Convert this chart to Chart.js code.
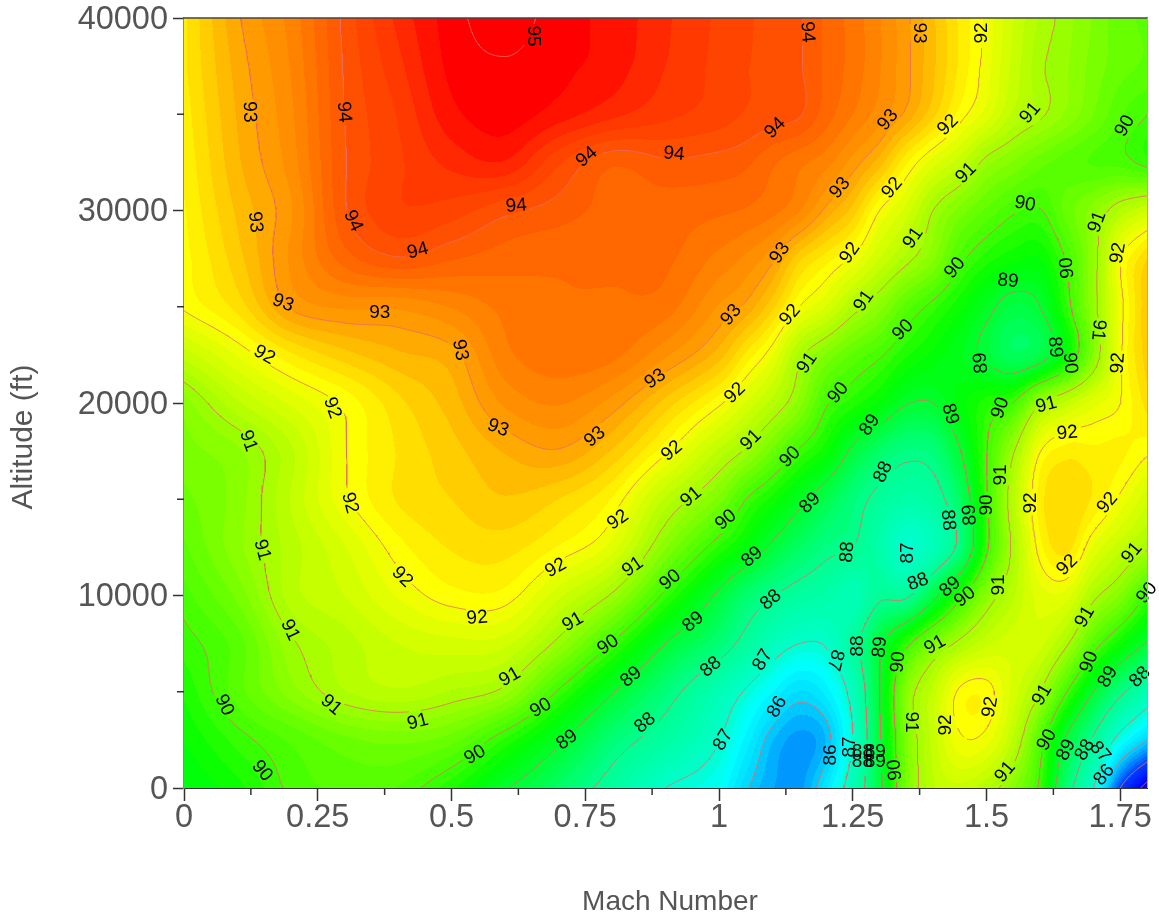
<!DOCTYPE html>
<html><head><meta charset="utf-8"><style>html,body{margin:0;padding:0;background:#fff}canvas{display:block;filter:blur(.4px)}</style>
<script src="https://cdn.jsdelivr.net/npm/chart.js@4"></script></head><body><canvas id="c" width="1159" height="917"></canvas>
<script>
const machs=[0,.1,.2,.3,.4,.5,.6,.7,.8,.9,1,1.05,1.1,1.15,1.2,1.25,1.3,1.35,1.4,1.45,1.5,1.55,1.6,1.65,1.7,1.75,1.8];
const alts=[0,2500,5000,7500,10000,12500,15000,17500,20000,22500,25000,27500,30000,32500,35000,37500,40000];
const atAlt0=[89.3,89.6,90.05,90.2,90.15,89.7,89.05,88.45,87.75,87.0,86.65,86.05,85.68,85.6,86.3,87.4,88.85,90.55,91.3,91.45,91.2,90.7,89.9,88.3,87.0,85.0,83.7];
const atAlt2500=[89.5,89.9,90.2,90.45,90.55,90.4,89.8,89.1,88.3,87.7,87.02,86.45,85.85,85.6,85.85,87.0,88.9,90.6,91.4,91.95,91.9,91.3,90.2,88.9,87.9,86.75,86.0];
const atAlt5000=[89.7,90.25,90.75,91.15,91.3,91.15,90.9,89.95,89.05,88.25,87.4,86.95,86.5,86.15,86.4,87.25,89.0,90.7,91.4,92.05,92.1,91.6,91.0,90.0,89.0,88.15,87.45];
const atAlt7500=[89.9,90.25,90.95,91.25,91.5,91.6,91.55,90.9,89.97,89.0,88.3,87.8,87.3,87.0,87.05,87.75,88.85,89.85,90.6,91.1,91.45,91.6,91.55,91.05,90.2,89.55,88.95];
const atAlt10000=[90.1,90.55,91.25,91.5,91.85,92.1,92.1,91.55,90.95,89.9,88.9,88.4,88.03,87.75,87.6,87.35,87.9,87.9,88.8,89.85,90.75,91.3,91.75,91.75,91.1,90.65,89.95];
const atAlt12500=[90.3,90.78,91.25,91.65,92.1,92.35,92.4,92.15,91.75,90.7,89.8,89.4,88.9,88.5,88.15,88.0,87.6,86.995,87.35,88.2,89.9,91.1,92.1,92.4,91.8,91.4,91.05];
const atAlt15000=[90.45,90.75,91.35,91.95,92.35,92.5,92.65,92.5,92.15,91.3,90.6,90.0,89.6,89.15,88.7,88.25,87.85,87.6,87.75,88.5,89.95,91.25,92.25,92.48,92.3,91.95,91.55];
const atAlt17500=[90.6,90.8,91.3,91.98,92.35,92.6,92.85,92.98,92.65,92.05,91.3,90.95,90.45,89.95,89.55,88.9,88.45,88.15,88.25,88.97,89.98,90.95,91.98,92.25,92.2,92.2,92.05];
const atAlt20000=[90.75,91.3,91.7,92.05,92.45,92.75,93.2,93.35,93.1,92.6,92.05,91.65,91.25,90.75,90.05,89.75,89.45,89.03,89.0,89.4,89.75,90.0,90.95,91.4,91.75,92.0,92.4];
const atAlt22500=[91.4,91.85,92.3,92.6,92.8,92.93,93.45,93.6,93.55,93.2,92.75,92.3,91.85,91.1,90.65,90.3,90.05,89.7,89.45,89.2,88.9,88.55,88.75,89.55,90.7,91.95,92.6];
const atAlt25000=[92.03,92.4,93.03,93.2,93.2,93.35,93.55,93.65,93.64,93.58,93.15,92.95,92.55,92.0,91.65,91.15,90.75,90.25,89.9,89.55,89.15,88.8,89.0,89.85,90.85,91.9,92.65];
const atAlt27500=[92.1,92.6,93.2,93.75,93.98,93.85,93.75,93.7,93.7,93.7,93.45,93.3,93.05,92.55,92.25,91.95,91.5,91.1,90.7,90.1,89.75,89.55,89.5,90.05,90.85,91.95,92.5];
const atAlt30000=[92.15,92.7,93.15,93.97,94.3,94.25,94.05,93.92,93.77,93.75,93.7,93.65,93.55,93.35,92.95,92.6,92.0,91.6,91.0,90.6,90.3,90.05,89.98,90.4,90.75,91.2,91.5];
const atAlt32500=[92.2,92.8,93.25,93.98,94.3,94.55,94.65,94.2,93.87,93.97,93.93,93.87,93.7,93.55,93.4,93.1,92.75,92.2,91.75,91.4,90.9,90.65,90.4,90.25,90.15,90.1,89.9];
const atAlt35000=[92.25,92.85,93.3,94.0,94.35,94.78,94.92,94.75,94.55,94.38,94.25,94.15,94.08,94.02,93.75,93.5,93.25,92.95,92.55,92.1,91.75,91.3,91.05,90.8,90.5,90.2,90.0];
const atAlt37500=[92.3,92.9,93.35,94.02,94.45,94.88,94.98,94.88,94.75,94.5,94.28,94.18,94.1,94.02,93.8,93.6,93.35,93.05,92.7,92.3,91.9,91.45,91.05,90.85,90.6,90.4,90.3];
const atAlt40000=[92.3,92.97,93.4,94.05,94.55,94.92,95.1,94.9,94.78,94.53,94.3,94.2,94.1,94.02,93.8,93.6,93.35,93.05,92.7,92.3,91.95,91.5,91.15,90.9,90.65,90.4,90.3];
const efficiencyRows=[atAlt0,atAlt2500,atAlt5000,atAlt7500,atAlt10000,atAlt12500,atAlt15000,atAlt17500,atAlt20000,atAlt22500,atAlt25000,atAlt27500,atAlt30000,atAlt32500,atAlt35000,atAlt37500,atAlt40000];
const contourLevels=[84,85,86,87,88,89,90,91,92,93,94,95];
const xTicks=[0,.25,.5,.75,1,1.25,1.5,1.75];
const minorMach=[.125,.375,.625,.875,1.125,1.375,1.625];
const minorAlt=[5000,15000,25000,35000];
// contour labels: level, Mach, altitude, angle
const labelLevel=[95,94,93,92,93,94,94,93,92,91,90,94,94,91,93,92,94,90,93,94,91,94,91,92,93,92,90,90,89,93,91,93,93,92,91,90,92,93,89,92,89,90,91,93,90,92,92,91,90,89,93,89,92,93,91,91,92,90,88,91,91,92,92,90,92,89,89,88,90,92,88,87,92,91,89,91,92,91,91,88,92,89,90,90,88,89,91,90,91,92,91,90,91,88,89,90,87,87,90,89,88,91,89,88,90,91,91,90,88,86,92,91,92,91,87,89,90,90,89,88,87,86,87,88,89,88,89,90,91,90,86];
const labelMach=[.652,1.165,1.374,1.492,.122,.299,1.105,1.316,1.428,1.582,1.759,.753,.916,1.462,1.226,1.324,.621,1.572,.133,.316,1.707,.437,1.363,1.746,1.114,1.245,1.441,1.651,1.540,.185,1.271,.366,1.023,1.133,1.709,1.344,.150,.516,1.628,1.746,1.490,1.656,1.165,.881,1.223,1.030,.277,1.612,1.526,1.432,.587,1.282,1.651,.768,1.060,.120,.912,1.133,1.307,1.526,.948,.310,1.582,1.501,1.726,1.170,1.469,1.428,1.013,.811,1.240,1.352,1.651,.146,1.062,1.522,.695,.839,1.772,1.372,.408,1.432,.909,1.460,1.097,.952,1.684,1.800,.727,.548,.198,.793,1.404,1.260,1.301,1.335,1.082,1.217,1.692,.836,.985,.609,1.727,1.787,.075,.275,.437,.667,.862,1.109,1.507,1.604,1.423,1.359,1.008,.716,.544,1.613,1.649,1.684,1.712,1.208,1.245,1.268,1.292,1.268,1.292,1.329,1.535,.146,1.720];
const labelAlt=[39066,39274,39222,39222,35118,35118,34287,34703,34443,35066,34391,32780,32936,31949,31170,31170,30235,30339,29404,29456,29404,27897,28573,27793,27793,27793,27014,27014,26339,25196,25300,24676,24572,24572,23793,23793,22494,22754,22910,22079,22079,22079,22079,21248,20520,20520,19741,19897,19741,19429,18702,18858,18442,18234,18079,18027,17507,17195,16416,16260,15117,14806,14806,14702,14806,14806,14182,13923,13923,13923,12260,12208,11585,12364,12000,10546,11429,11481,12208,10702,10961,10442,10806,9922,9767,8624,8883,10130,8624,8832,8208,7429,7429,7377,7325,6546,6650,6650,6546,5766,6286,5766,5766,5766,4312,4312,3429,4156,3377,4208,4208,4831,3273,3429,2494,2494,1714,2494,1974,1974,1870,1714,2130,1870,1870,1351,1351,935,831,883,675];
const labelAngle=[90,85,90,-90,88,85,-45,-50,-45,-50,-60,-40,5,-45,-50,-50,-5,10,85,65,-70,-15,-55,-80,-55,-55,-50,-95,5,20,-55,0,-50,-50,95,-45,30,80,85,-85,-95,85,-55,-35,-50,-45,70,-15,-70,75,20,-55,-5,-40,-45,70,-40,-45,-65,-90,-40,75,-90,-90,-50,-45,-95,85,-40,-35,-85,-90,-45,75,-40,-90,-30,-35,-50,-20,45,-40,-40,-40,-40,-40,-60,-50,-30,-5,65,-35,-30,-90,-85,-85,-60,105,-70,-40,-40,-30,-60,-45,65,40,-15,-30,-40,-60,-80,-60,-90,90,-60,-35,-30,-60,-65,-60,50,-90,-90,0,0,0,0,-95,-50,50,-50];
// colour ramp stops: value → hue
const rampValue=[84,85,86,86.6,87,88,89,89.5,90,91,92.1,93,94,94.5,94.9];
const rampHue=[240,225,190,180,168,154,131,120,105,82,60,38,20,12,0];
const bandStep=1/6;

function tangents(xs,v){const n=xs.length,d=new Float64Array(n);
 for(let i=0;i<n;i++){const a=Math.max(i-1,0),b=Math.min(i+1,n-1);d[i]=(v[b]-v[a])/(xs[b]-xs[a]);}return d;}
function hermite(xs,v,d,x,i){const h=xs[i+1]-xs[i],t=(x-xs[i])/h,t2=t*t,t3=t2*t;
 return (2*t3-3*t2+1)*v[i]+(t3-2*t2+t)*h*d[i]+(-2*t3+3*t2)*v[i+1]+(t3-t2)*h*d[i+1];}
function cell(xs,x){let i=0;while(i<xs.length-2&&x>xs[i+1])i++;return i;}
const colTan=machs.map((_,c)=>tangents(alts,efficiencyRows.map(r=>r[c])));
function fieldOn(ms,as){const out=new Float32Array(ms.length*as.length),mc=ms.map(m=>cell(machs,m));
 as.forEach((a,j)=>{const ai=cell(alts,a);
  const row=machs.map((_,c)=>hermite(alts,efficiencyRows.map(r=>r[c]),colTan[c],a,ai));
  const rt=tangents(machs,row);
  ms.forEach((m,i)=>{out[j*ms.length+i]=hermite(machs,row,rt,m,mc[i]);});});
 return out;}
function linspace(a,b,n){return Array.from({length:n},(_,i)=>a+(b-a)*i/(n-1));}

function contourDatasets(){
 const nx=322,ny=258,ms=linspace(0,1.8,nx),as=linspace(0,40000,ny),f=fieldOn(ms,as);
 const lineColor='rgba(235,108,100,0.78)';
 return contourLevels.map(level=>{
  const Z=(i,j)=>f[j*nx+i],pts=new Map(),adj=new Map();
  const hE=(i,j)=>`h${i},${j}`,vE=(i,j)=>`v${i},${j}`;
  const pt=(k,i,j)=>{if(pts.has(k))return;let x,y;
   if(k[0]==='h'){const t=(level-Z(i,j))/(Z(i+1,j)-Z(i,j));x=ms[i]+(ms[i+1]-ms[i])*t;y=as[j];}
   else{const t=(level-Z(i,j))/(Z(i,j+1)-Z(i,j));x=ms[i];y=as[j]+(as[j+1]-as[j])*t;}
   pts.set(k,{x,y});};
  const link=(a,b)=>{(adj.get(a)||adj.set(a,[]).get(a)).push(b);(adj.get(b)||adj.set(b,[]).get(b)).push(a);};
  for(let j=0;j<ny-1;j++)for(let i=0;i<nx-1;i++){
   const a=Z(i,j)>=level,b=Z(i+1,j)>=level,c=Z(i+1,j+1)>=level,d=Z(i,j+1)>=level;
   const es=[];
   if(a!==b){const k=hE(i,j);pt(k,i,j);es.push(k);}
   if(b!==c){const k=vE(i+1,j);pt(k,i+1,j);es.push(k);}
   if(d!==c){const k=hE(i,j+1);pt(k,i,j+1);es.push(k);}
   if(a!==d){const k=vE(i,j);pt(k,i,j);es.push(k);}
   if(es.length===2)link(es[0],es[1]);else if(es.length===4){link(es[0],es[1]);link(es[2],es[3]);}
  }
  const near=p=>labelLevel.some((l,n)=>l===level&&Math.hypot((p.x-labelMach[n])*535,(p.y-labelAlt[n])*.01925)<12);
  const seen=new Set(),data=[];
  const starts=[...adj.keys()].sort((a,b)=>adj.get(a).length-adj.get(b).length);
  for(const s of starts){ if(seen.has(s))continue; let cur=s;
   while(cur){seen.add(cur);const p=pts.get(cur);
    data.push(near(p)?{x:p.x,y:null}:{x:p.x,y:p.y});
    cur=adj.get(cur).find(k=>!seen.has(k));}
   data.push({x:0,y:null});}
  return {label:String(level),data,borderColor:lineColor,borderWidth:1,pointRadius:0,showLine:true,spanGaps:false,tension:0,fill:false};
 });
}
function colorOf(z){const b=Math.floor(z/bandStep+1e-6)*bandStep+bandStep/2;let h;
 if(b<=rampValue[0])h=rampHue[0];else if(b>=rampValue[rampValue.length-1])h=0;
 else{let i=0;while(b>rampValue[i+1])i++;h=rampHue[i]+(rampHue[i+1]-rampHue[i])*(b-rampValue[i])/(rampValue[i+1]-rampValue[i]);}
 const s=h/60,k=Math.floor(s),q=s-k;const t=[[255,q*255,0],[(1-q)*255,255,0],[0,255,q*255],[0,(1-q)*255,255],[0,0,255]][Math.min(k,4)];return t;}
const surfacePlugin={id:'surface',beforeDatasetsDraw(chart){
 const {ctx,chartArea:A,scales:{x,y}}=chart;
 if(!chart.$img){const w=Math.round(A.right-A.left),h=Math.round(A.bottom-A.top);
  const ms=Array.from({length:w},(_,i)=>Math.min(1.8,Math.max(0,x.getValueForPixel(A.left+i+.5))));
  const as=Array.from({length:h},(_,j)=>Math.min(40000,Math.max(0,y.getValueForPixel(A.top+j+.5))));
  const f=fieldOn(ms,as),cv=document.createElement('canvas');cv.width=w;cv.height=h;
  const g=cv.getContext('2d'),im=g.createImageData(w,h);
  for(let p=0;p<f.length;p++){const c=colorOf(f[p]);im.data[p*4]=c[0];im.data[p*4+1]=c[1];im.data[p*4+2]=c[2];im.data[p*4+3]=255;}
  g.putImageData(im,0,0);chart.$img=cv;}
 ctx.drawImage(chart.$img,A.left,A.top);
},afterDatasetsDraw(chart){
 const {ctx,chartArea:A,scales:{x,y}}=chart;ctx.save();
 ctx.fillStyle='#000';ctx.font='19px "Liberation Sans"';ctx.textAlign='center';ctx.textBaseline='middle';
 labelLevel.forEach((l,i)=>{ctx.save();ctx.translate(x.getPixelForValue(labelMach[i]),y.getPixelForValue(labelAlt[i]));ctx.rotate(labelAngle[i]*Math.PI/180);ctx.fillText(String(l),0,0);ctx.restore();});
 ctx.strokeStyle='#444';ctx.lineWidth=1.5;ctx.beginPath();ctx.moveTo(A.left-1,A.top);ctx.lineTo(A.right+1,A.top);ctx.stroke();
 ctx.strokeStyle='#aaa';ctx.lineWidth=1;ctx.beginPath();ctx.moveTo(A.right+.5,A.top);ctx.lineTo(A.right+.5,A.bottom);ctx.stroke();
 ctx.strokeStyle='#333';ctx.lineWidth=1.5;ctx.beginPath();
 minorMach.forEach(v=>{const p=x.getPixelForValue(v);ctx.moveTo(p,A.bottom);ctx.lineTo(p,A.bottom+7);});
 minorAlt.forEach(v=>{const p=y.getPixelForValue(v);ctx.moveTo(A.left,p);ctx.lineTo(A.left-7,p);});
 ctx.stroke();
 ctx.fillStyle='#555';ctx.font='28px "Liberation Sans"';ctx.textAlign='center';ctx.textBaseline='middle';
 ctx.fillText(xAxisTitle,670,902);
 ctx.save();ctx.translate(24,437);ctx.rotate(-Math.PI/2);ctx.font='30px "Liberation Sans"';ctx.fillText(yAxisTitle,0,0);ctx.restore();
 ctx.restore();
}};
const xAxisTitle='Mach Number',yAxisTitle='Altitude (ft)';
const tickFont={family:'"Liberation Sans"',size:32.5};
new Chart(document.getElementById('c'),{type:'scatter',plugins:[surfacePlugin],
 data:{datasets:contourDatasets()},
 options:{responsive:false,animation:false,parsing:false,normalized:true,
  layout:{padding:{left:0,top:18,right:12,bottom:0},autoPadding:false},
  plugins:{legend:{display:false},tooltip:{enabled:false},title:{display:false}},
  scales:{
   x:{type:'linear',min:0,max:1.8,afterFit(s){s.height=129;s.paddingLeft=0;s.paddingRight=0;},
    afterBuildTicks(s){s.ticks=xTicks.map(v=>({value:v}));},
    ticks:{color:'#555',font:tickFont,padding:-2,maxRotation:0,autoSkip:false,callback:v=>String(v)},
    grid:{drawOnChartArea:false,drawTicks:true,tickLength:13,tickColor:'#333',tickWidth:1.5},
    border:{color:'#333',width:2}},
   y:{type:'linear',min:0,max:40000,afterFit(s){s.width=184;s.paddingTop=0;s.paddingBottom=0;},
    ticks:{stepSize:10000,color:'#555',font:tickFont,padding:5,labelOffset:2,callback:v=>String(v)},
    grid:{drawOnChartArea:false,drawTicks:true,tickLength:11,tickColor:'#333',tickWidth:1.5},
    border:{color:'#888',width:1.5}}
  }}});
</script></body></html>
